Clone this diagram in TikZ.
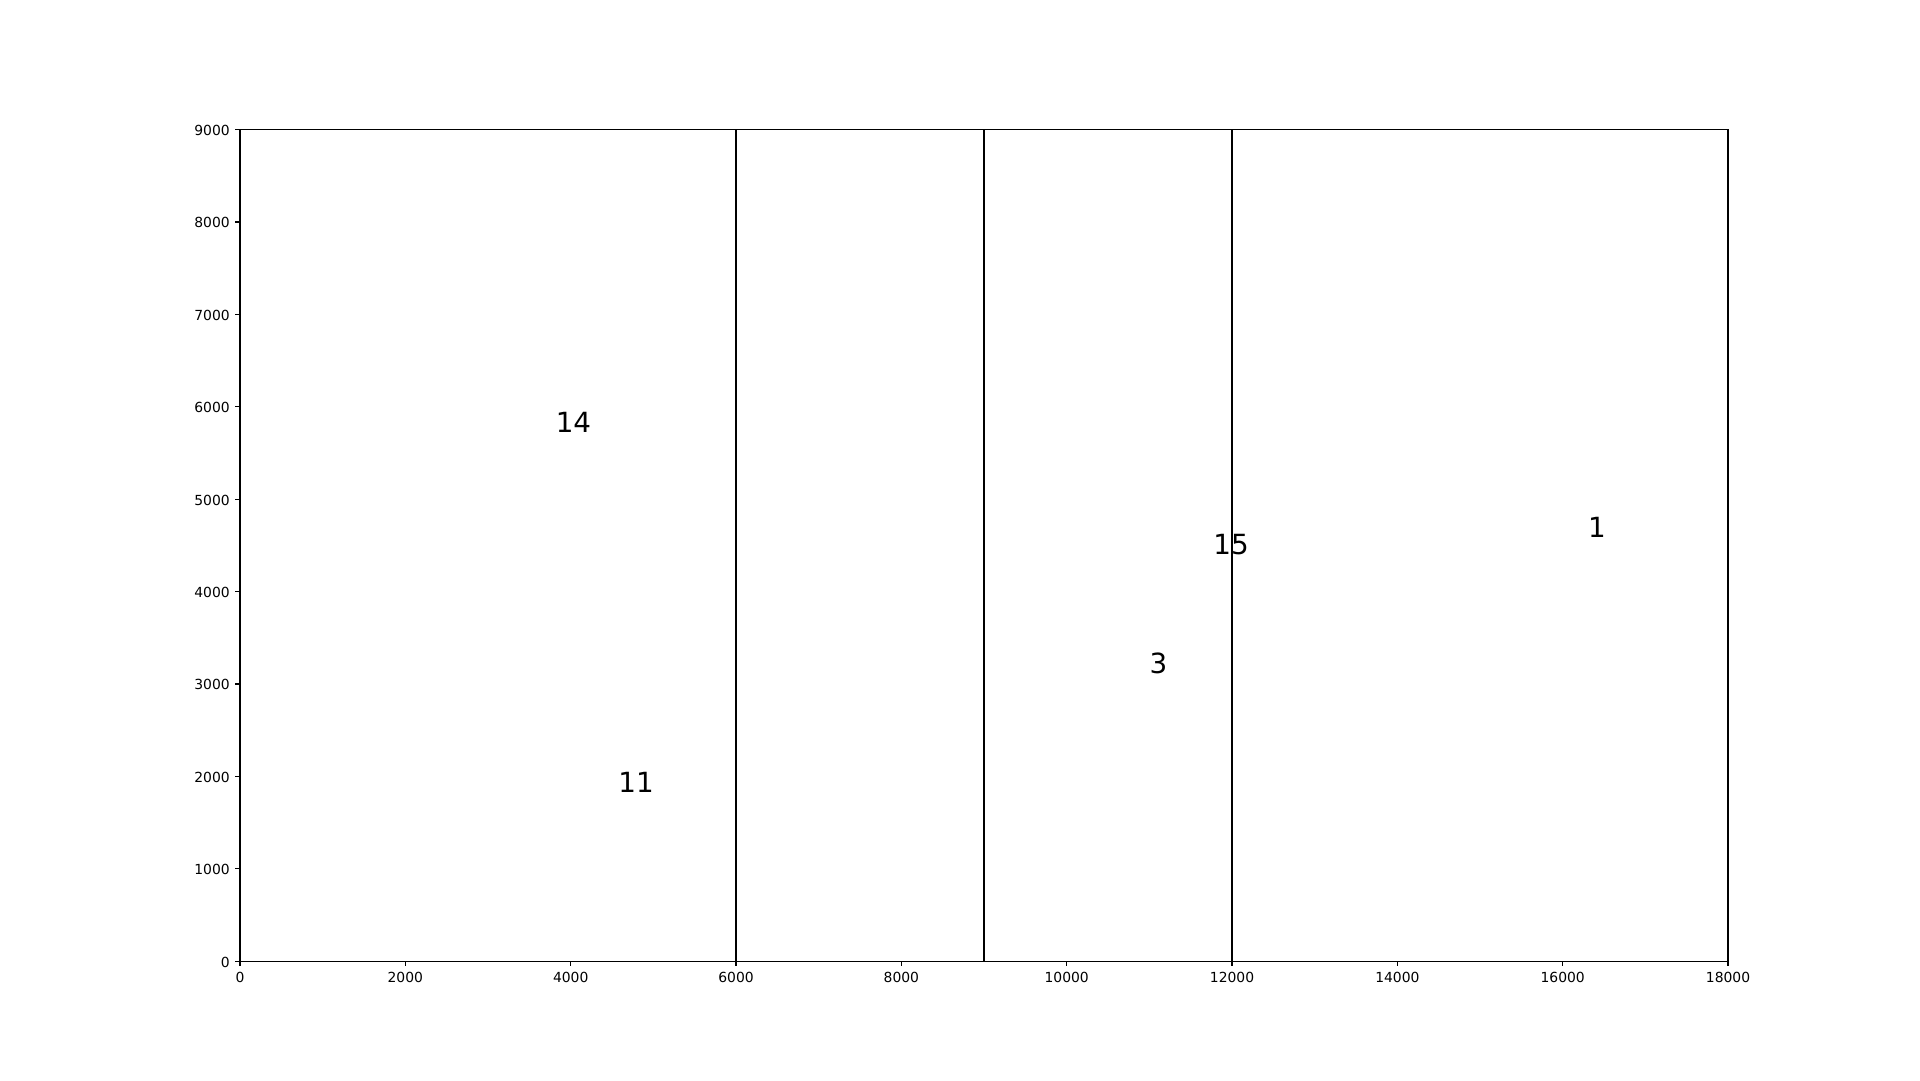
\documentclass[tikz,border=0pt]{standalone}
\usepackage{fontspec}
\setmainfont{DejaVu Sans}
\begin{document}
\begin{tikzpicture}[x=0.72pt,y=-0.72pt,
  axisline/.style={line width=0.8pt,black},
  divline/.style={line width=1.08pt,black},
  ticklab/.style={inner sep=0pt,font=\fontsize{10}{12}\selectfont},
  biglab/.style={inner sep=0pt,font=\fontsize{20}{24}\selectfont}]
\useasboundingbox (0,0) rectangle (1920,1080);
% axes frame
\coordinate (bl) at (240,961.2);
\coordinate (tr) at (1728,129.6);
% vertical dividers (data x = 6000, 9000, 12000)
\foreach \px/\n in {736/a,984/b,1232/c}{
  \coordinate (\n bot) at (\px,961.2);
  \coordinate (\n top) at (\px,129.6);
  \draw[divline] (\n bot) -- (\n top);
}
\draw[axisline] (bl) rectangle (tr);
% x ticks
\foreach \k in {0,...,9}{
  \pgfmathsetmacro{\px}{240+165.3333*\k}
  \pgfmathtruncatemacro{\lab}{2*\k}
  \coordinate (xt\k) at (\px,961.2);
  \coordinate (xe\k) at (\px,966.06);
  \draw[axisline] (xt\k) -- (xe\k);
  \node[ticklab,anchor=north] (xl\k) at (\px,972) {\ifnum\lab=0 0\else\lab000\fi};
}
% y ticks
\foreach \k in {0,...,9}{
  \pgfmathsetmacro{\py}{961.2-92.4*\k}
  \coordinate (yt\k) at (240,\py);
  \coordinate (ye\k) at (235.14,\py);
  \draw[axisline] (yt\k) -- (ye\k);
  \node[ticklab,anchor=east] (yl\k) at (230,\py+0.8) {\ifnum\k=0 0\else\k000\fi};
}
% labels
\node[biglab] (l14) at (573.5,422) {14};
\node[biglab] (l11) at (636,782.5) {11};
\node[biglab] (l3) at (1158.5,663.5) {3};
\node[biglab] (l15) at (1231,545) {15};
\node[biglab] (l1) at (1597,527) {1};
\end{tikzpicture}
\end{document}
